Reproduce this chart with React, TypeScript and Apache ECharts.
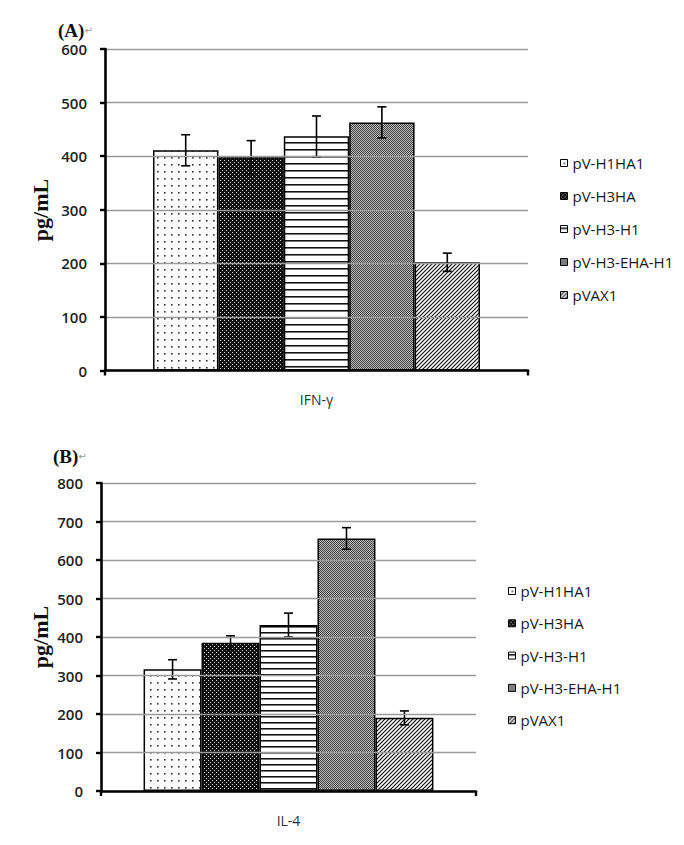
import React, { useEffect, useRef } from "react";
import * as echarts from "echarts";

const SERIES_NAMES = ["pV-H1HA1", "pV-H3HA", "pV-H3-H1", "pV-H3-EHA-H1", "pVAX1"];
const CATEGORY_A = ["IFN-γ"];
const CATEGORY_B = ["IL-4"];
const VALUES_A = [411, 398, 437, 463, 202];
const ERRORS_A = [29, 31, 38, 29, 17];
const VALUES_B = [316, 385, 431, 656, 190];
const ERRORS_B = [25, 18, 31, 28, 18];
const TITLE_A = "(A)";
const TITLE_B = "(B)";
const Y_NAME = "pg/mL";

const GAP = 0.227;

function makePattern(w: number, h: number, draw: (ctx: CanvasRenderingContext2D) => void) {
  const c = document.createElement("canvas");
  c.width = w;
  c.height = h;
  const ctx = c.getContext("2d") as CanvasRenderingContext2D;
  draw(ctx);
  return { image: c.toDataURL(), repeat: "repeat", imageWidth: w, imageHeight: h };
}

function buildPatterns(lineSpacing: number) {
  const dots = makePattern(7, 7, (ctx) => {
    ctx.fillStyle = "#fff";
    ctx.fillRect(0, 0, 7, 7);
    ctx.fillStyle = "#333";
    ctx.fillRect(3, 3, 1.6, 1.6);
  });
  const darkDots = makePattern(4, 4, (ctx) => {
    ctx.fillStyle = "#111";
    ctx.fillRect(0, 0, 4, 4);
    ctx.fillStyle = "#ddd";
    ctx.fillRect(0, 0, 1, 1);
    ctx.fillRect(2, 2, 1, 1);
  });
  const hLines = makePattern(4, lineSpacing, (ctx) => {
    ctx.fillStyle = "#fff";
    ctx.fillRect(0, 0, 4, lineSpacing);
    ctx.fillStyle = "#111";
    ctx.fillRect(0, 2, 4, 1);
    ctx.fillStyle = "#777";
    ctx.fillRect(0, 3, 4, 1);
  });
  const checker = makePattern(2, 2, (ctx) => {
    ctx.fillStyle = "#bdbdbd";
    ctx.fillRect(0, 0, 2, 2);
    ctx.fillStyle = "#404040";
    ctx.fillRect(0, 0, 1, 1);
    ctx.fillRect(1, 1, 1, 1);
  });
  const diag = makePattern(4, 4, (ctx) => {
    ctx.fillStyle = "#fff";
    ctx.fillRect(0, 0, 4, 4);
    ctx.strokeStyle = "#111";
    ctx.lineWidth = 1.2;
    ctx.beginPath();
    ctx.moveTo(-1, 5);
    ctx.lineTo(5, -1);
    ctx.moveTo(-3, 3);
    ctx.lineTo(3, -3);
    ctx.moveTo(1, 7);
    ctx.lineTo(7, 1);
    ctx.stroke();
  });
  return [dots, darkDots, hLines, checker, diag];
}

export default function App() {
  const ref = useRef<HTMLDivElement>(null);

  useEffect(() => {
    if (!ref.current) return;
    const chart = echarts.init(ref.current, undefined, { renderer: "svg" });
    const patA = buildPatterns(7);
    const patB = buildPatterns(6);

    const axisText = { fontFamily: "Open Sans", fontSize: 15, fontWeight: 600, color: "#222" };

    const xAxisCommon = (grid: number, data: string[]) => ({
      gridIndex: grid,
      type: "category",
      data,
      z: 10,
      axisLine: { lineStyle: { color: "#000", width: 2.6 } },
      axisTick: { show: true, length: 5, lineStyle: { color: "#000", width: 2.4 } },
      axisLabel: { margin: 22, fontFamily: "Open Sans", fontSize: 14, color: "#333" },
      splitLine: { show: false },
    });
    const yAxisCommon = (grid: number, max: number) => ({
      gridIndex: grid,
      type: "value",
      min: 0,
      max,
      interval: 100,
      z: 10,
      axisLine: { show: true, lineStyle: { color: "#000", width: 2.6 } },
      axisTick: { show: true, length: 5, lineStyle: { color: "#000", width: 2.4 } },
      axisLabel: { margin: 18, ...axisText },
      splitLine: { show: true, lineStyle: { color: "#9a9a9a", width: 1.3 } },
    });

    const barSeries = (values: number[], pats: any[], idx: number) =>
      SERIES_NAMES.map((name, i) => ({
        type: "bar",
        name,
        xAxisIndex: idx,
        yAxisIndex: idx,
        data: [values[i]],
        barGap: "0%",
        barCategoryGap: GAP * 100 + "%",
        itemStyle: { color: pats[i], borderColor: "#000", borderWidth: 1.5 },
        emphasis: { disabled: true },
      }));

    const errorSeries = (values: number[], errors: number[], idx: number) => ({
      type: "custom",
      xAxisIndex: idx,
      yAxisIndex: idx,
      z: 5,
      encode: { x: 0, y: 1 },
      data: values.map((v, i) => [0, v, errors[i], i]),
      renderItem: (params: any, api: any) => {
        const cat = api.value(0);
        const v = api.value(1);
        const e = api.value(2);
        const bi = api.value(3);
        const c = api.coord([cat, v]);
        const band = api.size([1, 0])[0];
        const group = band * (1 - GAP);
        const w = group / SERIES_NAMES.length;
        const x = c[0] - group / 2 + w * (bi + 0.5);
        const top = api.coord([cat, v + e])[1];
        const bot = api.coord([cat, v - e])[1];
        const cap = 4.5;
        const st = { stroke: "#000", lineWidth: 1.6 };
        return {
          type: "group",
          children: [
            { type: "line", shape: { x1: x, y1: top, x2: x, y2: bot }, style: st },
            { type: "line", shape: { x1: x - cap, y1: top, x2: x + cap, y2: top }, style: st },
            { type: "line", shape: { x1: x - cap, y1: bot, x2: x + cap, y2: bot }, style: st },
          ],
        };
      },
    });

    const legendCommon = {
      orient: "vertical",
      padding: 0,
      itemWidth: 7,
      itemHeight: 7,
      icon: "rect",
      selectedMode: false,
      data: SERIES_NAMES,
      itemStyle: { borderColor: "#000", borderWidth: 1 },
      textStyle: { fontFamily: "Open Sans", fontSize: 15, color: "#1a1a1a", lineHeight: 16 },
    };

    const titleText = (text: string, x: number, y: number) => ({
      type: "text",
      x,
      y,
      style: {
        text: "{t|" + text + "}{r|↵}",
        rich: {
          t: { fontFamily: "Liberation Serif", fontWeight: "bold", fontSize: 19, fill: "#111", color: "#111" },
          r: { fontFamily: "DejaVu Sans", fontSize: 10, fill: "#999", color: "#999" },
        },
        align: "left",
        textAlign: "left",
        verticalAlign: "middle",
        textVerticalAlign: "middle",
      },
    });
    const yNameText = (x: number, y: number) => ({
      type: "text",
      x,
      y,
      rotation: Math.PI / 2,
      style: {
        text: Y_NAME,
        font: 'bold 22px "Liberation Serif"',
        fill: "#111",
        align: "center",
        textAlign: "center",
        verticalAlign: "middle",
        textVerticalAlign: "middle",
      },
    });

    chart.setOption({
      animation: false,
      grid: [
        { left: 105, top: 49, width: 423, height: 321.5 },
        { left: 101, top: 483, width: 375, height: 308 },
      ],
      xAxis: [xAxisCommon(0, CATEGORY_A), xAxisCommon(1, CATEGORY_B)],
      yAxis: [yAxisCommon(0, 600), yAxisCommon(1, 800)],
      legend: [
        { ...legendCommon, left: 560, top: 155, itemGap: 17 },
        { ...legendCommon, left: 508, top: 583, itemGap: 16.3 },
      ],
      graphic: [
        titleText(TITLE_A, 58, 30),
        titleText(TITLE_B, 53, 456),
        yNameText(40, 210),
        yNameText(40, 637),
      ],
      series: [
        ...barSeries(VALUES_A, patA, 0),
        ...barSeries(VALUES_B, patB, 1),
        errorSeries(VALUES_A, ERRORS_A, 0),
        errorSeries(VALUES_B, ERRORS_B, 1),
      ],
    });
    return () => chart.dispose();
  }, []);

  return (
    <div
      ref={ref}
      style={{ position: "fixed", left: 0, top: 0, width: 684, height: 845, background: "#fff" }}
    />
  );
}
